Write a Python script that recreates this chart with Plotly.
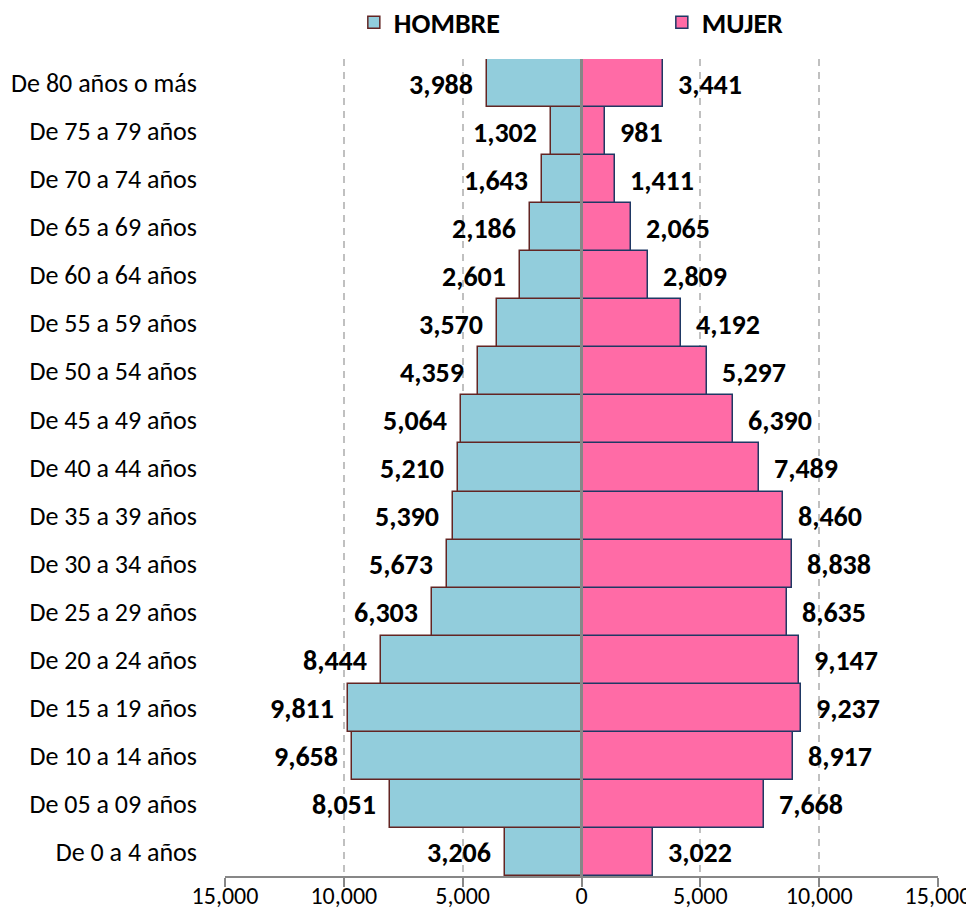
import plotly.graph_objects as go

categories = ["De 0 a 4 años", "De 05 a 09 años", "De 10 a 14 años", "De 15 a 19 años",
              "De 20 a 24 años", "De 25 a 29 años", "De 30 a 34 años", "De 35 a 39 años",
              "De 40 a 44 años", "De 45 a 49 años", "De 50 a 54 años", "De 55 a 59 años",
              "De 60 a 64 años", "De 65 a 69 años", "De 70 a 74 años", "De 75 a 79 años",
              "De 80 años o más"]
hombre = [3206, 8051, 9658, 9811, 8444, 6303, 5673, 5390, 5210, 5064, 4359, 3570,
          2601, 2186, 1643, 1302, 3988]
mujer = [3022, 7668, 8917, 9237, 9147, 8635, 8838, 8460, 7489, 6390, 5297, 4192,
         2809, 2065, 1411, 981, 3441]
tick_vals = [-15000, -10000, -5000, 0, 5000, 10000, 15000]
tick_text = ["15,000", "10,000", "5,000", "0", "5,000", "10,000", "15,000"]

FONT = "Carlito, Calibri, Lato, sans-serif"
LABEL_SIZE = 28

fig = go.Figure()
fig.add_trace(go.Bar(
    y=categories, x=[-v for v in hombre], orientation="h", name="HOMBRE",
    marker=dict(color="#92CDDC", line=dict(color="#632523", width=1.5)),
    hoverinfo="skip",
))
fig.add_trace(go.Bar(
    y=categories, x=mujer, orientation="h", name="MUJER",
    marker=dict(color="#FF6BA6", line=dict(color="#1F3864", width=1.5)),
    hoverinfo="skip",
))

for c, v in zip(categories, hombre):
    fig.add_annotation(x=-v, y=c, xref="x", yref="y", text=f"<b>{v:,}</b>",
                       showarrow=False, xanchor="right", xshift=-12, yshift=-1,
                       font=dict(family=FONT, size=LABEL_SIZE, color="black"))
for c, v in zip(categories, mujer):
    fig.add_annotation(x=v, y=c, xref="x", yref="y", text=f"<b>{v:,}</b>",
                       showarrow=False, xanchor="left", xshift=13, yshift=-1,
                       font=dict(family=FONT, size=LABEL_SIZE, color="black"))

fig.add_shape(type="line", xref="x", yref="paper", x0=0, x1=0, y0=0, y1=1,
              line=dict(color="#878787", width=3), layer="above")

# The page adds an 8px body margin, so the figure is sized/offset to compensate.
fig.update_layout(
    width=966, height=910,
    barmode="overlay", bargap=0,
    plot_bgcolor="white", paper_bgcolor="white",
    margin=dict(l=217, r=36, t=51, b=42, autoexpand=False),
    font=dict(family=FONT, size=24, color="black"),
    showlegend=True,
    legend=dict(orientation="h", x=0.358, xanchor="left", y=0.984, yanchor="middle",
                xref="container", yref="container",
                font=dict(family=FONT, size=28, color="black", weight="bold"),
                itemwidth=30, entrywidth=263, bgcolor="rgba(0,0,0,0)"),
    xaxis=dict(range=[-15000, 15000], tickvals=tick_vals, ticktext=tick_text,
               showgrid=True, gridcolor="#C0C0C0", griddash="7px,6px", gridwidth=1.5,
               zeroline=False, showline=True, linecolor="#878787", linewidth=2,
               ticks="outside", ticklen=9, tickcolor="#878787", tickwidth=2,
               ticklabelstandoff=-12, automargin=False,
               tickfont=dict(family=FONT, size=24, color="black")),
    yaxis=dict(showgrid=False, zeroline=False, showline=False, ticks="",
               ticklabelstandoff=27, automargin=False,
               tickfont=dict(family=FONT, size=26, color="black")),
)

fig.write_html("out.html")
